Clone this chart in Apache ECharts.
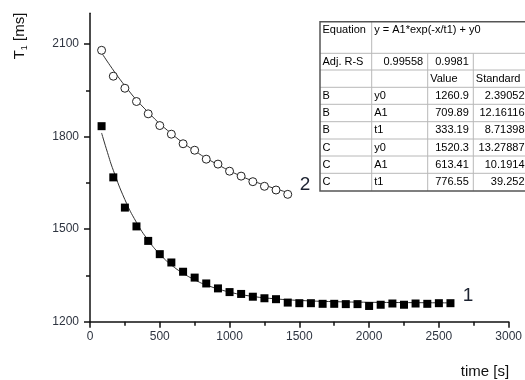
<!DOCTYPE html>
<html><head><meta charset="utf-8">
<script src="https://cdn.jsdelivr.net/npm/echarts@6/dist/echarts.min.js"></script>
<style>html,body{margin:0;padding:0;background:#fff}#c{width:525px;height:380px}</style>
</head><body><div id="c"></div>
<script>
// ---- data ----
var xTicks = [0, 500, 1000, 1500, 2000, 2500, 3000];
var yTicks = [1200, 1500, 1800, 2100];
var yMinorTicks = [1350, 1650, 1950];

var time1 = [83, 167, 250, 333, 417, 500, 583, 667, 750, 833, 917, 1000, 1083, 1167, 1250, 1333, 1417, 1500, 1583, 1667, 1750, 1833, 1917, 2000, 2083, 2167, 2250, 2333, 2417, 2500, 2583];
var t1Series1 = [1834, 1668, 1570, 1509, 1462, 1419, 1392, 1362, 1343, 1324, 1308, 1296, 1290, 1281, 1276, 1273, 1262, 1260, 1260, 1258, 1258, 1257, 1257, 1251, 1255, 1259, 1255, 1259, 1258, 1260, 1260];

var time2 = [83, 167, 250, 333, 417, 500, 583, 667, 750, 833, 917, 1000, 1083, 1167, 1250, 1333, 1417];
var t1Series2 = [2080, 1996, 1957, 1914, 1874, 1836, 1808, 1777, 1756, 1727, 1711, 1688, 1672, 1654, 1639, 1627, 1613];

// fitted curves
var fitX1 = [83, 125, 167, 250, 333, 417, 500, 583, 667, 750, 833, 1000, 1167, 1333, 1500, 1750, 2000, 2250, 2583];
var fitY1 = [1812, 1749, 1691, 1596, 1522, 1464, 1419, 1384, 1357, 1336, 1319, 1296, 1282, 1274, 1269, 1265, 1263, 1262, 1261];
var fitX2 = [83, 250, 417, 583, 750, 917, 1083, 1250, 1417];
var fitY2 = [2072, 1965, 1879, 1810, 1754, 1709, 1672, 1643, 1619];

var curveLabels = ['1', '2'];

var tableEquation = ['Equation', 'y = A1*exp(-x/t1) + y0'];
var tableRows = [
  ['Adj. R-S', '0.99558', '0.9981', ''],
  ['', '', 'Value', 'Standard'],
  ['B', 'y0', '1260.9', '2.39052'],
  ['B', 'A1', '709.89', '12.16116'],
  ['B', 't1', '333.19', '8.71398'],
  ['C', 'y0', '1520.3', '13.27887'],
  ['C', 'A1', '613.41', '10.1914'],
  ['C', 't1', '776.55', '39.252']
];

function pairs(xs, ys) { return xs.map(function (x, i) { return [x, ys[i]]; }); }

// ---- table graphic ----
var colX = [320, 371.7, 427.7, 473.3, 529];
var rowY = [21.7, 53.3, 70, 87.3, 104.3, 121.7, 139, 156, 173.3, 191];
var FONT = '11px "Liberation Sans", Arial, sans-serif';
var g = [];
g.push({type: 'rect', shape: {x: colX[0], y: rowY[0], width: colX[4] - colX[0], height: rowY[9] - rowY[0]}, style: {fill: '#fff', stroke: null}, z: 10});
for (var r = 1; r < rowY.length - 1; r++) {
  g.push({type: 'line', shape: {x1: colX[0], y1: rowY[r], x2: colX[4], y2: rowY[r]}, style: {stroke: '#b8b8b8', lineWidth: 1}, z: 11});
}
g.push({type: 'line', shape: {x1: colX[1], y1: rowY[0], x2: colX[1], y2: rowY[9]}, style: {stroke: '#b8b8b8', lineWidth: 1}, z: 11});
g.push({type: 'line', shape: {x1: colX[2], y1: rowY[1], x2: colX[2], y2: rowY[9]}, style: {stroke: '#b8b8b8', lineWidth: 1}, z: 11});
g.push({type: 'line', shape: {x1: colX[3], y1: rowY[1], x2: colX[3], y2: rowY[9]}, style: {stroke: '#b8b8b8', lineWidth: 1}, z: 11});
g.push({type: 'rect', shape: {x: colX[0], y: rowY[0], width: colX[4] - colX[0], height: rowY[9] - rowY[0]}, style: {fill: null, stroke: '#555', lineWidth: 1.5}, z: 12});
g.push({type: 'text', x: colX[0] + 2.5, y: rowY[0] + 8, style: {text: tableEquation[0], font: FONT, fill: '#000', align: 'left', verticalAlign: 'middle'}, z: 13});
g.push({type: 'text', x: colX[1] + 2.5, y: rowY[0] + 8, style: {text: tableEquation[1], font: FONT, fill: '#000', align: 'left', verticalAlign: 'middle'}, z: 13});
tableRows.forEach(function (row, ri) {
  var yc = (rowY[ri + 1] + rowY[ri + 2]) / 2;
  row.forEach(function (txt, ci) {
    if (!txt) return;
    var numeric = /^[0-9.]+$/.test(txt);
    var left = !numeric;
    g.push({type: 'text', x: left ? colX[ci] + 2.5 : colX[ci + 1] - 4.5, y: yc,
      style: {text: txt, font: FONT, fill: '#000', align: left ? 'left' : 'right', verticalAlign: 'middle'}, z: 13});
  });
});
g.push({type: 'text', x: 468, y: 296, style: {text: curveLabels[0], font: '19px "Liberation Sans", Arial, sans-serif', fill: '#1c2230', align: 'center', verticalAlign: 'middle'}, z: 13});
g.push({type: 'text', x: 305, y: 185, style: {text: curveLabels[1], font: '19px "Liberation Sans", Arial, sans-serif', fill: '#1c2230', align: 'center', verticalAlign: 'middle'}, z: 13});
g.push({type: 'text', x: 485, y: 372, style: {text: 'time [s]', font: '15px "Liberation Sans", Arial, sans-serif', fill: '#111', align: 'center', verticalAlign: 'middle'}, z: 13});
g.push({type: 'text', x: 20, y: 36, rotation: Math.PI / 2,
  style: {text: '{t|T}{s|1}{t| [ms]}', align: 'center', verticalAlign: 'middle',
    rich: {t: {font: '15px "Liberation Sans", Arial, sans-serif', fill: '#111', lineHeight: 18, verticalAlign: 'middle'},
           s: {font: '9px "Liberation Sans", Arial, sans-serif', fill: '#111', lineHeight: 18, verticalAlign: 'bottom', padding: [6, 0, 0, 0]}}}, z: 13});

var labelStyle = {color: '#2e3440', fontSize: 12, fontFamily: '"Liberation Sans", Arial, sans-serif', formatter: function (v) { return String(v); }};

var option = {
  animation: false,
  backgroundColor: '#fff',
  grid: {left: 90, right: 15, top: 13.3, bottom: 58.3},
  xAxis: {
    type: 'value', min: 0, max: 3000, interval: 500,
    axisLine: {show: true, onZero: false, lineStyle: {color: '#111', width: 1.5}},
    axisTick: {show: true, inside: false, length: 6, lineStyle: {color: '#111', width: 1.5}},
    minorTick: {show: true, splitNumber: 2, length: 4, lineStyle: {color: '#111', width: 1.5}},
    axisLabel: Object.assign({margin: 9, customValues: xTicks}, labelStyle),
    splitLine: {show: false}
  },
  yAxis: [{
    type: 'value', min: 1200, max: 2200, interval: 300,
    axisLine: {show: true, onZero: false, lineStyle: {color: '#111', width: 1.5}},
    axisTick: {show: true, inside: false, length: 6, customValues: yTicks, lineStyle: {color: '#111', width: 1.5}},
    axisLabel: Object.assign({margin: 11, customValues: yTicks}, labelStyle),
    splitLine: {show: false}
  }, {
    type: 'value', min: 1200, max: 2200, position: 'left',
    axisLine: {show: false},
    axisTick: {show: true, inside: false, length: 4, customValues: yMinorTicks, lineStyle: {color: '#111', width: 1.5}},
    axisLabel: {show: false},
    splitLine: {show: false}
  }],
  graphic: g,
  series: [
    {type: 'line', data: pairs(fitX1, fitY1), smooth: true, showSymbol: false, symbol: 'none', lineStyle: {color: '#333', width: 1}, z: 2},
    {type: 'line', data: pairs(fitX2, fitY2), smooth: true, showSymbol: false, symbol: 'none', lineStyle: {color: '#333', width: 1}, z: 2},
    {type: 'scatter', data: pairs(time1, t1Series1), symbol: 'rect', symbolSize: 8, itemStyle: {color: '#000', opacity: 1}, z: 3},
    {type: 'scatter', data: pairs(time2, t1Series2), symbol: 'circle', symbolSize: 8, itemStyle: {color: '#fff', borderColor: '#222', borderWidth: 1, opacity: 1}, z: 3}
  ]
};
var chart = echarts.init(document.getElementById('c'), null, {renderer: 'canvas'});
chart.setOption(option);
</script></body></html>
